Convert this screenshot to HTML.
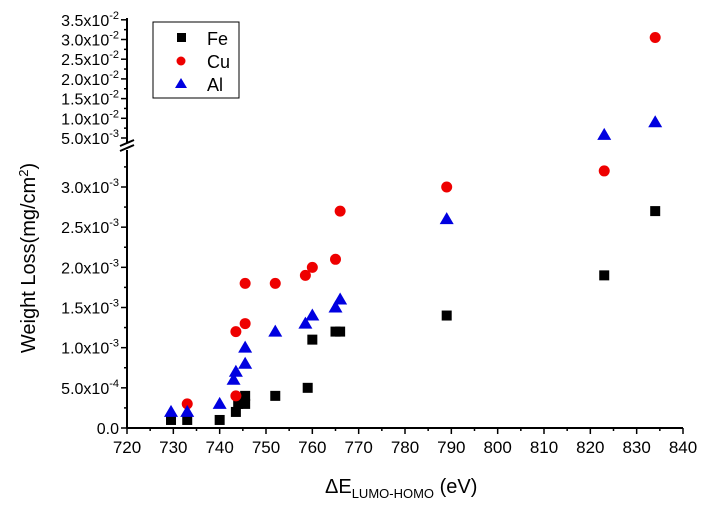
<!DOCTYPE html>
<html><head><meta charset="utf-8"><style>
body{margin:0;background:#fff;}
svg text{font-family:"Liberation Sans",Arial,sans-serif;fill:#000;}
</style></head><body>
<svg id="chart" width="728" height="508" xmlns="http://www.w3.org/2000/svg">
<g id="axes"></g><g id="marks"></g>
<g>
<rect x="153" y="22" width="86" height="76" fill="#fff" stroke="#000" stroke-width="1"/>
<rect x="177" y="33" width="9" height="9" fill="#000"/>
<text x="207" y="45" font-size="18">Fe</text>
<circle cx="181" cy="61" r="4.5" fill="#e00"/>
<text x="207" y="68" font-size="18">Cu</text>
<polygon points="181,78 175,88 187,88" fill="#0000e0"/>
<text x="207" y="91" font-size="18">Al</text>
</g>
<text x="325" y="493" font-size="20">ΔE<tspan font-size="13" dy="5">LUMO-HOMO</tspan><tspan dy="-5"> (eV)</tspan></text>
<text transform="translate(35,258) rotate(-90)" text-anchor="middle" font-size="20">Weight Loss(mg/cm<tspan font-size="13" dy="-7">2</tspan><tspan dy="7">)</tspan></text>
</svg>
<script>
const feX=[729.5,733,740,743.5,744,745.5,745.5,752,759,760,765,766,789,823,834];
const feY=[1e-4,1e-4,1e-4,2e-4,3e-4,3e-4,4e-4,4e-4,5e-4,1.1e-3,1.2e-3,1.2e-3,1.4e-3,1.9e-3,2.7e-3];
const cuX=[733,743.5,743.5,745.5,745.5,752,758.5,760,765,766,789,823,834];
const cuY=[3e-4,4e-4,1.2e-3,1.3e-3,1.8e-3,1.8e-3,1.9e-3,2e-3,2.1e-3,2.7e-3,3e-3,3.2e-3,3.05e-2];
const alX=[729.5,733,740,743,743.5,745.5,745.5,752,758.5,760,765,766,789,823,834];
const alY=[2e-4,2e-4,3e-4,6e-4,7e-4,8e-4,1e-3,1.2e-3,1.3e-3,1.4e-3,1.5e-3,1.6e-3,2.6e-3,5.8e-3,9e-3];
const xTicks=[720,730,740,750,760,770,780,790,800,810,820,830,840];
const yLowTicks=[0,5e-4,1e-3,1.5e-3,2e-3,2.5e-3,3e-3];
const yHighTicks=[5e-3,1e-2,1.5e-2,2e-2,2.5e-2,3e-2,3.5e-2];
const yHighMant=["5.0","1.0","1.5","2.0","2.5","3.0","3.5"];
const yHighExp=["-3","-2","-2","-2","-2","-2","-2"];
const yLowMant=["0.0","5.0","1.0","1.5","2.0","2.5","3.0"];
const yLowExp=["","-4","-3","-3","-3","-3","-3"];
const NS="http://www.w3.org/2000/svg";
const X0=127,X1=683,Y0=428;
function xs(v){return X0+(v-720)/120*(X1-X0);}
function ys(v){return v<=4e-3? Y0-v/3e-3*(Y0-187) : 138-(v-5e-3)/5e-3*19.7;}
const axes=document.getElementById('axes'),marks=document.getElementById('marks');
function mk(tag,attrs,parent){const e=document.createElementNS(NS,tag);for(const k in attrs)e.setAttribute(k,attrs[k]);parent.appendChild(e);return e;}
let l=mk('line',{x1:X0,y1:Y0,x2:X1,y2:Y0,stroke:'#000','stroke-width':2},axes);


l=mk('line',{x1:X0,y1:Y0,x2:X0,y2:150,stroke:'#000','stroke-width':2},axes);


l=mk('line',{x1:X0,y1:143,x2:X0,y2:18,stroke:'#000','stroke-width':2},axes);


mk('line',{x1:X0-7,y1:151,x2:X0+7,y2:145,stroke:'#000','stroke-width':2},axes);
mk('line',{x1:X0-7,y1:146,x2:X0+7,y2:140,stroke:'#000','stroke-width':2},axes);
xTicks.forEach((t,i)=>{const x=xs(t);
 mk('line',{x1:x,y1:Y0,x2:x,y2:Y0+6,stroke:'#000','stroke-width':1.5},axes);
 if(i<xTicks.length-1)mk('line',{x1:x+(xs(t+10)-x)/2,y1:Y0,x2:x+(xs(t+10)-x)/2,y2:Y0+3,stroke:'#000','stroke-width':1.5},axes);
 const tx=mk('text',{x:x,y:Y0+25,'font-size':17,'text-anchor':'middle'},axes);tx.textContent=t;
 
 });
function ylab(y,m,e){const tx=mk('text',{x:X0-8,y:y+6,'font-size':16,'text-anchor':'end'},axes);
 
 
 if(e===""){tx.textContent=m;return;}
 const a=mk('tspan',{},tx);a.textContent=m+"x10";const b=mk('tspan',{dy:-7,'font-size':11},tx);b.textContent=e;const c=mk('tspan',{dy:7,'font-size':16},tx);c.textContent="";}
yLowTicks.forEach((t,i)=>{const y=ys(t);
 mk('line',{x1:X0-6,y1:y,x2:X0,y2:y,stroke:'#000','stroke-width':1.5},axes);
 mk('line',{x1:X0-3,y1:y-20.1,x2:X0,y2:y-20.1,stroke:'#000','stroke-width':1.5},axes);
 ylab(y,yLowMant[i],yLowExp[i]);});
yHighTicks.forEach((t,i)=>{const y=ys(t);
 mk('line',{x1:X0-6,y1:y,x2:X0,y2:y,stroke:'#000','stroke-width':1.5},axes);
 if(i<yHighTicks.length-1)mk('line',{x1:X0-3,y1:y-9.85,x2:X0,y2:y-9.85,stroke:'#000','stroke-width':1.5},axes);
 ylab(y,yHighMant[i],yHighExp[i]);});
feX.forEach((v,i)=>{const e=mk('rect',{x:xs(v)-5,y:ys(feY[i])-5,width:10,height:10,fill:'#000'},marks);
 
 });
cuX.forEach((v,i)=>{const e=mk('circle',{cx:xs(v),cy:ys(cuY[i]),r:5.5,fill:'#e00'},marks);
 
 });
alX.forEach((v,i)=>{const x=xs(v),y=ys(alY[i]);const e=mk('polygon',{points:`${x},${y-7} ${x-7},${y+5} ${x+7},${y+5}`,fill:'#0000e0'},marks);
 
 });
</script>
</body></html>
